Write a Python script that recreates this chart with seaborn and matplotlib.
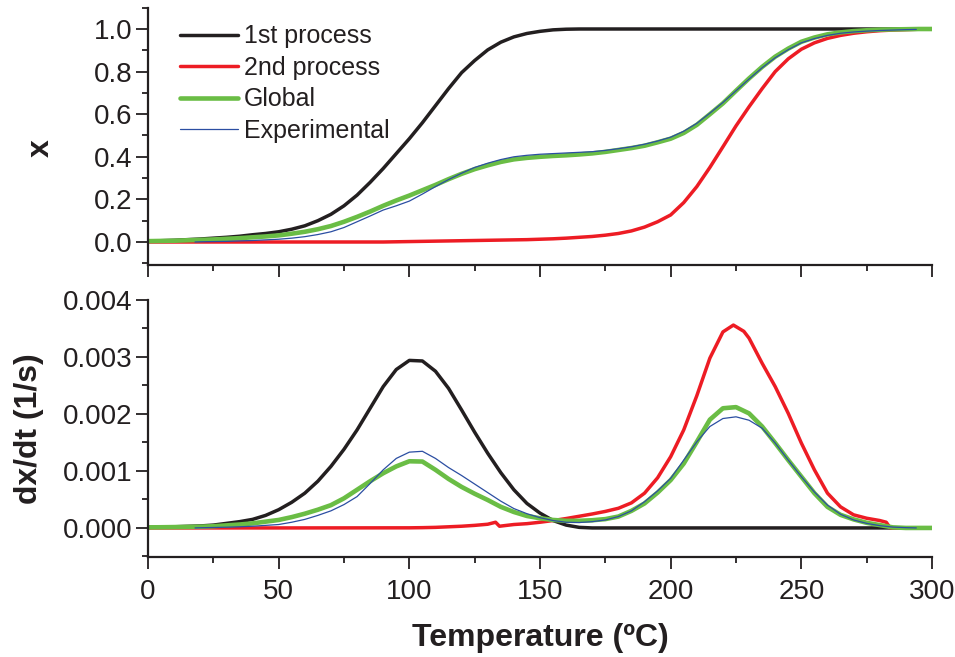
import numpy as np
import pandas as pd
import matplotlib
matplotlib.use("Agg")
import matplotlib.pyplot as plt
import seaborn as sns
from matplotlib.ticker import MultipleLocator, FormatStrFormatter

# ---------------- data ----------------
T = list(range(0, 301, 5))

x_first = [0.005, 0.006, 0.008, 0.011, 0.014, 0.018, 0.022, 0.027, 0.034, 0.040,
           0.048, 0.060, 0.076, 0.100, 0.130, 0.170, 0.220, 0.280, 0.345, 0.415,
           0.485, 0.560, 0.640, 0.720, 0.795, 0.852, 0.902, 0.938, 0.963, 0.979,
           0.989, 0.996, 0.999] + [1.0] * 28

x_second = [0.0] * 19 + [
           0.001, 0.002, 0.003, 0.004, 0.005, 0.006, 0.007, 0.008, 0.009, 0.010, 0.011,
           0.013, 0.015, 0.018, 0.022, 0.026, 0.032, 0.040, 0.052, 0.070, 0.095,
           0.127, 0.185, 0.260, 0.350, 0.447, 0.545, 0.635, 0.720, 0.800, 0.860,
           0.905, 0.935, 0.956, 0.970, 0.980, 0.987, 0.992, 0.995, 0.997, 0.999, 1.0]

x_global = [0.004, 0.005, 0.006, 0.008, 0.010, 0.012, 0.015, 0.018, 0.022, 0.026,
            0.031, 0.039, 0.048, 0.060, 0.075, 0.095, 0.118, 0.143, 0.170, 0.195,
            0.218, 0.243, 0.268, 0.295, 0.320, 0.342, 0.360, 0.376, 0.388, 0.395,
            0.400, 0.404, 0.407, 0.411, 0.416, 0.423, 0.432, 0.441, 0.452, 0.468,
            0.485, 0.512, 0.550, 0.600, 0.651, 0.710, 0.768, 0.822, 0.870, 0.908,
            0.940, 0.960, 0.975, 0.984, 0.990, 0.994, 0.997, 0.998, 0.999, 1.0, 1.0]

T_exp = [18] + list(range(20, 295, 5)) + [294]
x_exp = [0.000,
         0.001, 0.002, 0.003, 0.005, 0.007, 0.010, 0.013, 0.018, 0.025, 0.035,
         0.048, 0.068, 0.095, 0.122, 0.150, 0.170, 0.192, 0.225, 0.260, 0.293,
         0.323, 0.350, 0.370, 0.387, 0.400, 0.407, 0.412, 0.415, 0.418, 0.421,
         0.424, 0.430, 0.438, 0.447, 0.459, 0.474, 0.492, 0.520, 0.557, 0.605,
         0.655, 0.710, 0.765, 0.818, 0.865, 0.903, 0.935, 0.955, 0.970, 0.980,
         0.986, 0.990, 0.993, 0.995, 0.997,
         0.998]

# rates, in units of 1e-3 1/s
d_first = [0.01, 0.015, 0.02, 0.028, 0.035, 0.05, 0.08, 0.11, 0.15, 0.22,
           0.32, 0.45, 0.61, 0.82, 1.08, 1.38, 1.72, 2.10, 2.48, 2.78,
           2.94, 2.93, 2.75, 2.45, 2.07, 1.68, 1.31, 0.97, 0.67, 0.43,
           0.26, 0.13, 0.05, 0.01] + [0.0] * 27

T_d2 = [0, 50, 100, 105, 110, 115, 120, 125, 130, 133, 134.5, 140, 145, 150, 155,
        160, 165, 170, 175, 180, 185, 190, 195, 200, 205, 210, 215, 220, 224, 228,
        230, 235, 240, 245, 250, 255, 260, 265, 270, 275, 280, 282.5, 284, 300]
d_second = [0, 0, 0.002, 0.005, 0.01, 0.02, 0.03, 0.045, 0.065, 0.10, 0.03, 0.06, 0.075, 0.10, 0.13,
            0.165, 0.205, 0.245, 0.29, 0.345, 0.44, 0.61, 0.88, 1.25, 1.72, 2.32, 2.98, 3.44, 3.56, 3.45,
            3.33, 2.89, 2.48, 2.01, 1.49, 1.02, 0.61, 0.37, 0.23, 0.17, 0.13, 0.10, 0.0, 0.0]

d_global = [0.01, 0.012, 0.015, 0.018, 0.022, 0.03, 0.045, 0.06, 0.08, 0.11,
            0.14, 0.19, 0.25, 0.32, 0.40, 0.52, 0.67, 0.82, 0.96, 1.08,
            1.17, 1.165, 1.02, 0.86, 0.72, 0.60, 0.49, 0.37, 0.28, 0.21,
            0.17, 0.14, 0.125, 0.125, 0.135, 0.155, 0.20, 0.30, 0.43, 0.62,
            0.84, 1.13, 1.51, 1.90, 2.10, 2.12, 2.01, 1.78, 1.49, 1.19,
            0.90, 0.61, 0.37, 0.23, 0.15, 0.09, 0.05, 0.01, 0.0, 0.0, 0.0]

d_exp = [0.0,
         0.003, 0.008, 0.013, 0.02, 0.03, 0.045, 0.06, 0.10, 0.15, 0.22,
         0.30, 0.41, 0.55, 0.78, 1.02, 1.22, 1.33, 1.345, 1.22, 1.06,
         0.92, 0.77, 0.62, 0.47, 0.34, 0.25, 0.18, 0.13, 0.10, 0.095,
         0.11, 0.14, 0.20, 0.30, 0.46, 0.65, 0.87, 1.19, 1.51, 1.78,
         1.92, 1.95, 1.89, 1.75, 1.49, 1.19, 0.90, 0.63, 0.40, 0.24,
         0.14, 0.08, 0.04, 0.015, 0.005,
         0.0]

labels = ["1st process", "2nd process", "Global", "Experimental"]
colors = ["#231f20", "#ed1c24", "#6abd45", "#2b4ea2"]
widths = [2.5, 2.5, 3.3, 0.9]

# ---------------- style ----------------
sns.set_theme(style="ticks")
plt.rcParams["font.family"] = ["Liberation Sans", "DejaVu Sans"]
plt.rcParams["text.color"] = "#231f20"
plt.rcParams["axes.labelcolor"] = "#231f20"
plt.rcParams["xtick.color"] = "#231f20"
plt.rcParams["ytick.color"] = "#231f20"
plt.rcParams["lines.solid_capstyle"] = "round"
plt.rcParams["lines.solid_joinstyle"] = "round"

fig = plt.figure(figsize=(9.55, 6.57), dpi=100)
W, H = 955.0, 657.0
ax1 = fig.add_axes([148 / W, 1 - 265 / H, 784 / W, (265 - 7.7) / H])
ax2 = fig.add_axes([148 / W, 1 - 557 / H, 784 / W, (557 - 300) / H])

top_series = [(T, x_first), (T, x_second), (T, x_global), (T_exp, x_exp)]
bot_series = [(T, d_first), (T_d2, d_second), (T, d_global), (T_exp, d_exp)]

for (tx, ty), lab, c, lw in zip(top_series, labels, colors, widths):
    df = pd.DataFrame({"T": tx, "v": ty})
    sns.lineplot(data=df, x="T", y="v", ax=ax1, color=c, linewidth=lw,
                 label=lab, estimator=None, sort=False, legend=False)

for (tx, ty), lab, c, lw in zip(bot_series, labels, colors, widths):
    df = pd.DataFrame({"T": tx, "v": np.array(ty) * 1e-3})
    sns.lineplot(data=df, x="T", y="v", ax=ax2, color=c, linewidth=lw,
                 estimator=None, sort=False, legend=False)

for ax in (ax1, ax2):
    ax.set_xlim(0, 300)
    for s in ("top", "right"):
        ax.spines[s].set_visible(False)
    for s in ("left", "bottom"):
        ax.spines[s].set_linewidth(1.6)
        ax.spines[s].set_color("#231f20")
    ax.xaxis.set_major_locator(MultipleLocator(50))
    ax.xaxis.set_minor_locator(MultipleLocator(25))
    ax.tick_params(which="major", direction="out", length=8.5, width=1.3,
                   labelsize=20, pad=3)
    ax.tick_params(which="minor", direction="out", length=4.5, width=1.3)
    ax.set_xlabel("")
    ax.set_ylabel("")

ax1.set_ylim(-0.108, 1.1)
ax1.yaxis.set_major_locator(MultipleLocator(0.2))
ax1.yaxis.set_minor_locator(MultipleLocator(0.1))
ax1.yaxis.set_major_formatter(FormatStrFormatter("%.1f"))
ax1.tick_params(axis="x", labelbottom=False)

ax2.set_ylim(-0.00051, 0.004)
ax2.yaxis.set_major_locator(MultipleLocator(0.001))
ax2.yaxis.set_minor_locator(MultipleLocator(0.0005))
ax2.yaxis.set_major_formatter(FormatStrFormatter("%.3f"))
ax2.tick_params(axis="x", pad=7)

ax1.set_ylabel("x", fontsize=23, fontweight="bold")
ax1.yaxis.set_label_coords(-0.118, 0.455)
ax2.set_ylabel("dx/dt (1/s)", fontsize=23, fontweight="bold")
ax2.yaxis.set_label_coords(-0.133, 0.5)
ax2.set_xlabel("Temperature (ºC)", fontsize=23, fontweight="bold")
ax2.xaxis.set_label_coords(0.5, -0.255)

ax1.legend(loc="upper left", bbox_to_anchor=(0.041, 0.935), frameon=False,
           fontsize=18, handlelength=2.3, handletextpad=0.25,
           labelspacing=0.3, borderpad=0, borderaxespad=0)

fig.savefig("out.png", dpi=100)
